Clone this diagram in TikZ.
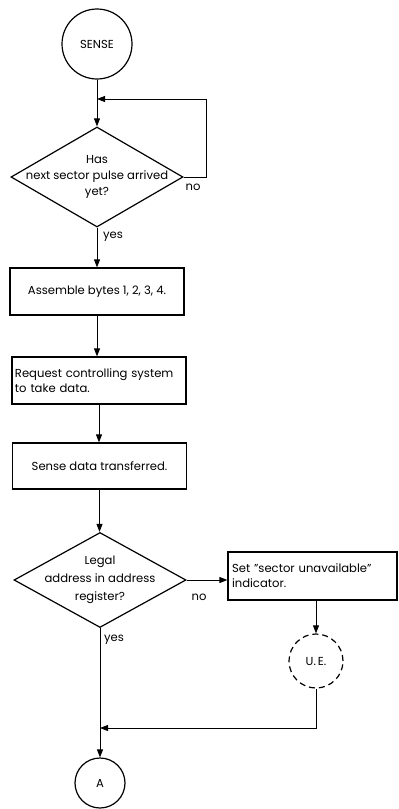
\documentclass[tikz,border=0pt]{standalone}
\usepackage{fontspec}
\setmainfont{Poppins}
\usetikzlibrary{arrows.meta,shapes.geometric}

\begin{document}
\begin{tikzpicture}[x=1pt,y=-1pt,
  every node/.style={font=\fontsize{11.6}{16}\selectfont},
  flow/.style={line width=0.9pt},
  arr/.style={flow,-{Triangle[length=8pt,width=6pt]}},
  stepbox/.style={draw,line width=1.2pt,rectangle,inner sep=0pt,
    minimum width=174pt,minimum height=47pt},
  decision/.style={draw,line width=1.2pt,diamond,inner sep=0pt},
  term/.style={draw,line width=1.2pt,circle,inner sep=0pt},
  lbl/.style={inner sep=0pt}
]
\useasboundingbox (0,0) rectangle (399,809);

% start terminal and the sector-pulse wait loop
\node[term,minimum size=70pt] (sense) at (97,44) {SENSE};
\node[decision,minimum width=172pt,minimum height=100pt] (d1) at (97,177) {};
\node[lbl,align=center] (d1t) at (d1.center) {Has\\next sector pulse arrived\\yet?};
\coordinate (j1) at (97,99);
\draw[arr] (sense.south) -- (d1.north);
\draw[arr] (d1.east) -- ++(23,0) |- (j1);
\node[lbl] (no1) at (193,187) {no};
\node[lbl] (yes1) at (113,237) {yes};

% processing steps
\node[stepbox] (b1) at (97,291.5) {Assemble bytes 1, 2, 3, 4.};
\node[stepbox,text width=168pt,align=left,font=\fontsize{11.6}{14.5}\selectfont] (b2) at (99,380.5)
  {Request controlling system\\to take data.};
\node[stepbox,minimum height=46pt] (b3) at (99.5,466) {Sense data transferred.};

\draw[arr] (d1.south) -- (b1.north -| d1.south);
\draw[arr] (b1.south) -- (b1.south |- b2.north);
\draw[arr] (b2.south) -- (b2.south |- b3.north);

% address check
\node[decision,minimum width=172pt,minimum height=95pt] (d2) at (100,580) {};
\node[lbl,align=center,font=\fontsize{11.6}{18}\selectfont] (d2t) at (d2.center)
  {Legal\\address in address\\register?};
\draw[arr] (b3.south) -- (b3.south |- d2.north);

\node[stepbox,minimum width=169pt,minimum height=48pt,text width=161pt,align=left,
  font=\fontsize{11.6}{15}\selectfont] (b4) at (312.5,576)
  {Set {\char"22}sector unavailable{\char"22}\\indicator.};
\draw[arr] (d2.east) -- (d2.east -| b4.west);
\node[lbl] (no2) at (199,597) {no};
\node[lbl] (yes2) at (114,640) {yes};

% error exit and merge
\node[term,dashed,dash pattern=on 6pt off 4pt,minimum size=54pt] (ue) at (316,661) {U.\,E.};
\draw[arr] (b4.south -| ue.north) -- (ue.north);

\node[term,minimum size=50pt] (a) at (100,783) {A};
\coordinate (j2) at (100,728);
\draw[arr] (ue.south) |- (j2);
\draw[arr] (d2.south) -- (a.north);
\end{tikzpicture}
\end{document}
